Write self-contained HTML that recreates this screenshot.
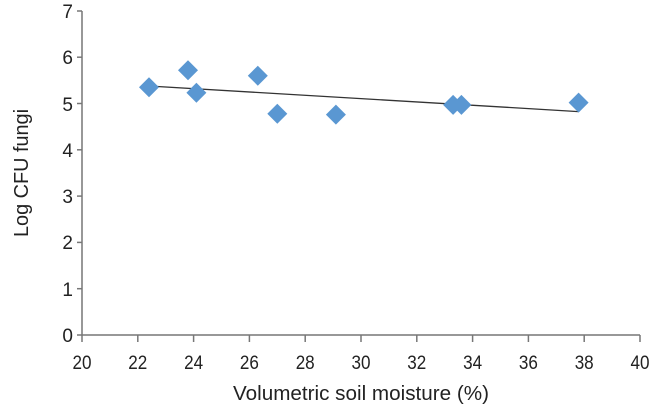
<!DOCTYPE html><html><head><style>body{margin:0;background:#fff}svg text{font-family:"Liberation Sans",sans-serif;fill:#222}</style></head><body>
<svg width="655" height="415" xmlns="http://www.w3.org/2000/svg">
<g stroke="#777" stroke-width="1.5" fill="none">
<line x1="82" y1="11" x2="82" y2="335"/>
<line x1="82" y1="335" x2="640" y2="335"/>
<line x1="77" x2="82" y1="335" y2="335"/><line x1="77" x2="82" y1="288.7" y2="288.7"/><line x1="77" x2="82" y1="242.4" y2="242.4"/><line x1="77" x2="82" y1="196.1" y2="196.1"/><line x1="77" x2="82" y1="149.8" y2="149.8"/><line x1="77" x2="82" y1="103.5" y2="103.5"/><line x1="77" x2="82" y1="57.2" y2="57.2"/><line x1="77" x2="82" y1="11" y2="11"/>
<line x1="82" x2="82" y1="335" y2="342"/><line x1="137.8" x2="137.8" y1="335" y2="342"/><line x1="193.6" x2="193.6" y1="335" y2="342"/><line x1="249.4" x2="249.4" y1="335" y2="342"/><line x1="305.2" x2="305.2" y1="335" y2="342"/><line x1="361" x2="361" y1="335" y2="342"/><line x1="416.8" x2="416.8" y1="335" y2="342"/><line x1="472.6" x2="472.6" y1="335" y2="342"/><line x1="528.4" x2="528.4" y1="335" y2="342"/><line x1="584.2" x2="584.2" y1="335" y2="342"/><line x1="640" x2="640" y1="335" y2="342"/>
</g>
<g font-size="19" text-anchor="end">
<text x="73" y="342">0</text><text x="73" y="296">1</text><text x="73" y="249">2</text><text x="73" y="203">3</text><text x="73" y="157">4</text><text x="73" y="111">5</text><text x="73" y="64">6</text><text x="73" y="18">7</text>
</g>
<g font-size="19" text-anchor="middle">
<text x="82" y="369" textLength="19" lengthAdjust="spacingAndGlyphs">20</text><text x="137.8" y="369" textLength="19" lengthAdjust="spacingAndGlyphs">22</text><text x="193.6" y="369" textLength="19" lengthAdjust="spacingAndGlyphs">24</text><text x="249.4" y="369" textLength="19" lengthAdjust="spacingAndGlyphs">26</text><text x="305.2" y="369" textLength="19" lengthAdjust="spacingAndGlyphs">28</text><text x="361" y="369" textLength="19" lengthAdjust="spacingAndGlyphs">30</text><text x="416.8" y="369" textLength="19" lengthAdjust="spacingAndGlyphs">32</text><text x="472.6" y="369" textLength="19" lengthAdjust="spacingAndGlyphs">34</text><text x="528.4" y="369" textLength="19" lengthAdjust="spacingAndGlyphs">36</text><text x="584.2" y="369" textLength="19" lengthAdjust="spacingAndGlyphs">38</text><text x="640" y="369" textLength="19" lengthAdjust="spacingAndGlyphs">40</text>
</g>
<text x="361" y="400" font-size="20" text-anchor="middle" textLength="256" lengthAdjust="spacingAndGlyphs">Volumetric soil moisture (%)</text>
<text transform="translate(28,173) rotate(-90)" font-size="20" text-anchor="middle" textLength="128" lengthAdjust="spacingAndGlyphs">Log CFU fungi</text>
<line x1="148.9" y1="86" x2="578.5" y2="111.6" stroke="#333" stroke-width="1.3"/>
<g fill="#5a97d2">
<polygon points="149,77.3 159,87.3 149,97.3 139,87.3"/>
<polygon points="188,60.2 198,70.2 188,80.2 178,70.2"/>
<polygon points="196.4,82.8 206.4,92.8 196.4,102.8 186.4,92.8"/>
<polygon points="257.8,65.7 267.8,75.7 257.8,85.7 247.8,75.7"/>
<polygon points="277.3,103.7 287.3,113.7 277.3,123.7 267.3,113.7"/>
<polygon points="335.9,104.6 345.9,114.6 335.9,124.6 325.9,114.6"/>
<polygon points="453.1,94.9 463.1,104.9 453.1,114.9 443.1,104.9"/>
<polygon points="461.4,94.9 471.4,104.9 461.4,114.9 451.4,104.9"/>
<polygon points="578.6,92.6 588.6,102.6 578.6,112.6 568.6,102.6"/>
</g>
</svg></body></html>
